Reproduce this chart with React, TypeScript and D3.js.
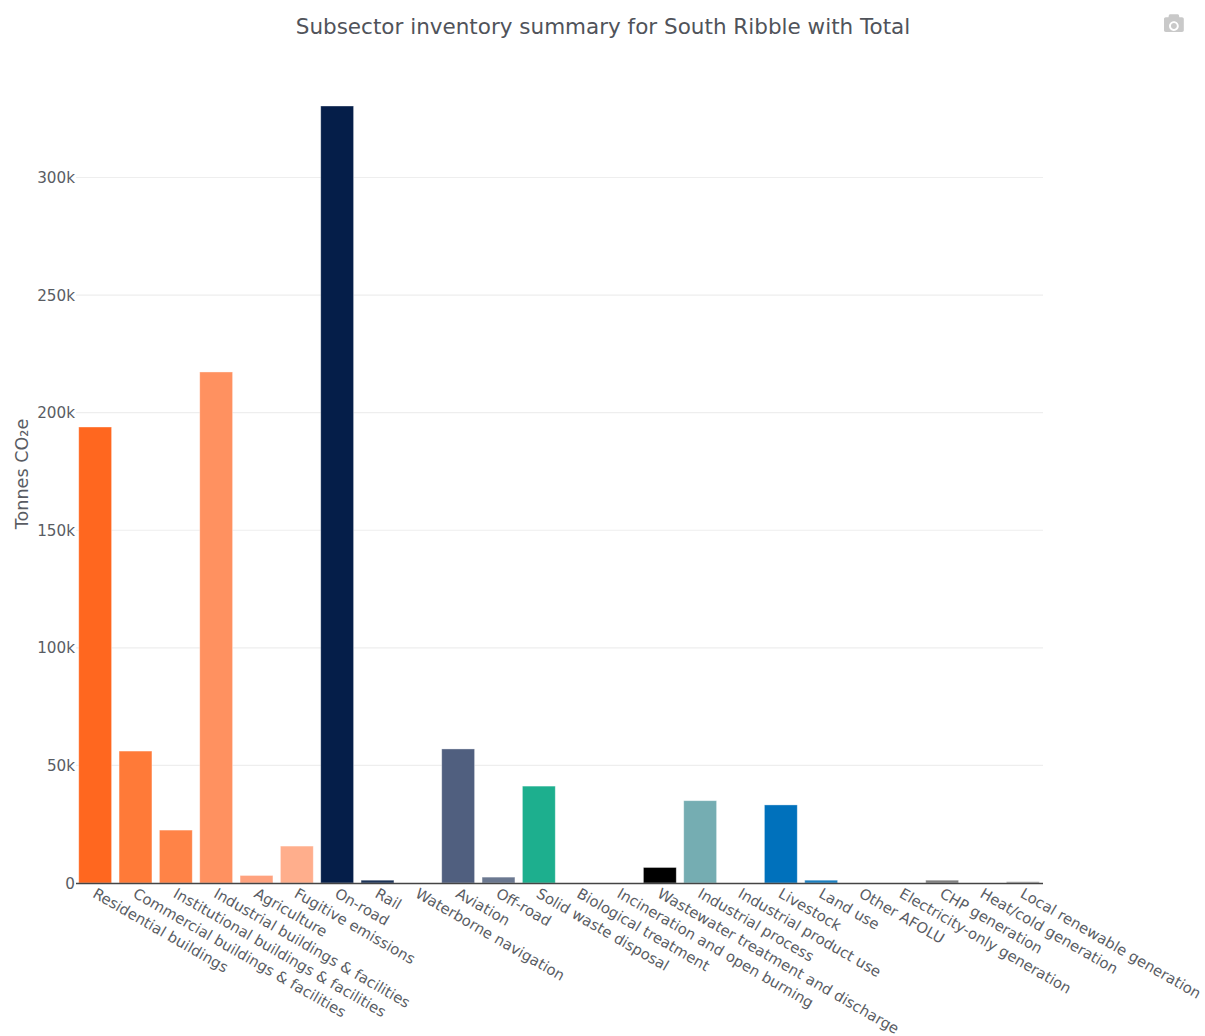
import React from "react";
import * as d3 from "d3";

const categories = ["Residential buildings","Commercial buildings & facilities","Institutional buildings & facilities","Industrial buildings & facilities","Agriculture","Fugitive emissions","On-road","Rail","Waterborne navigation","Aviation","Off-road","Solid waste disposal","Biological treatment","Incineration and open burning","Wastewater treatment and discharge","Industrial process","Industrial product use","Livestock","Land use","Other AFOLU","Electricity-only generation","CHP generation","Heat/cold generation","Local renewable generation"];
const values = [193900,56100,22500,217300,3200,15700,330400,1200,0,57000,2500,41200,0,0,6600,35000,0,33200,1200,0,0,1200,0,600];
const colors = ["#ff671f","#ff7a38","#ff8347","#ff9160","#ffa27e","#ffae8c","#051e49","#1c3358","#374b6c","#505f7f","#6b7890","#1daf8e","#4abf9f","#333333","#000000","#75adb2","#90bdc1","#0071bc","#1a7fc0","#4d9bd0","#666666","#808080","#999999","#a6a6a6"];
const yTicks = [0,50000,100000,150000,200000,250000,300000];
const yTickLabels = ["0","50k","100k","150k","200k","250k","300k"];
const title = "Subsector inventory summary for South Ribble with Total";
const yTitle = "Tonnes CO₂e";

const W = 1205, H = 1036;
const FONT = '"DejaVu Sans", Verdana, sans-serif';
const TEXT = "#595c63";

export default function App() {
  const x = d3.scaleBand<string>().domain(categories).range([75, 1043]).paddingInner(0.185).paddingOuter(0.0925);
  const y = d3.scaleLinear().domain([0, 300000]).range([883, 177.5]);
  return (
    <svg width={W} height={H} viewBox={`0 0 ${W} ${H}`} style={{ position: "absolute", left: 0, top: 0, display: "block" }} fontFamily={FONT}>
      <rect width={W} height={H} fill="#fff" />
      <text x={603} y={34} textAnchor="middle" fontSize={21.5} fill="#50535a">{title}</text>
      <g transform="translate(1164,15) scale(0.0198,-0.0198) translate(0,-860)" fill="#c9c9c9">
        <path d="M500 450c-83 0-150-67-150-150 0-83 67-150 150-150 83 0 150 67 150 150 0 83-67 150-150 150z M911 750h-136l-25 107c-7 24-33 43-58 43h-384c-25 0-51-19-58-43l-25-107h-136c-49 0-89-40-89-89v-572c0-49 40-89 89-89h822c49 0 89 40 89 89v572c0 49-40 89-89 89z M500 54c-136 0-246 110-246 246 0 136 110 246 246 246 136 0 246-110 246-246 0-136-110-246-246-246z" fillRule="evenodd" />
      </g>
      {yTicks.map((t, i) => (
        <g key={t}>
          {t > 0 && <line x1={76} x2={1043} y1={y(t)} y2={y(t)} stroke="#eeeeee" strokeWidth={1.2} />}
          <text x={75} y={y(t) + 5.5} textAnchor="end" fontSize={15.2} fill={TEXT}>{yTickLabels[i]}</text>
        </g>
      ))}
      <text transform={`translate(28,474) rotate(-90)`} textAnchor="middle" fontSize={17.6} fill={TEXT}>{yTitle}</text>
      {categories.map((c, i) => (
        <rect key={c} x={x(c)} y={y(values[i])} width={x.bandwidth()} height={Math.max(0, y(0) - y(values[i]))} fill={colors[i]} stroke="#fff" strokeOpacity={0.45} strokeWidth={0.8} />
      ))}
      <line x1={76} x2={1043} y1={883.5} y2={883.5} stroke="#444" strokeWidth={1.3} />
      {categories.map((c) => {
        const cx = (x(c) as number) + x.bandwidth() / 2;
        return (
          <text key={c} transform={`translate(${cx - 3.5},${896.5}) rotate(30)`} fontSize={14.8} fill={TEXT}>{c}</text>
        );
      })}
    </svg>
  );
}
